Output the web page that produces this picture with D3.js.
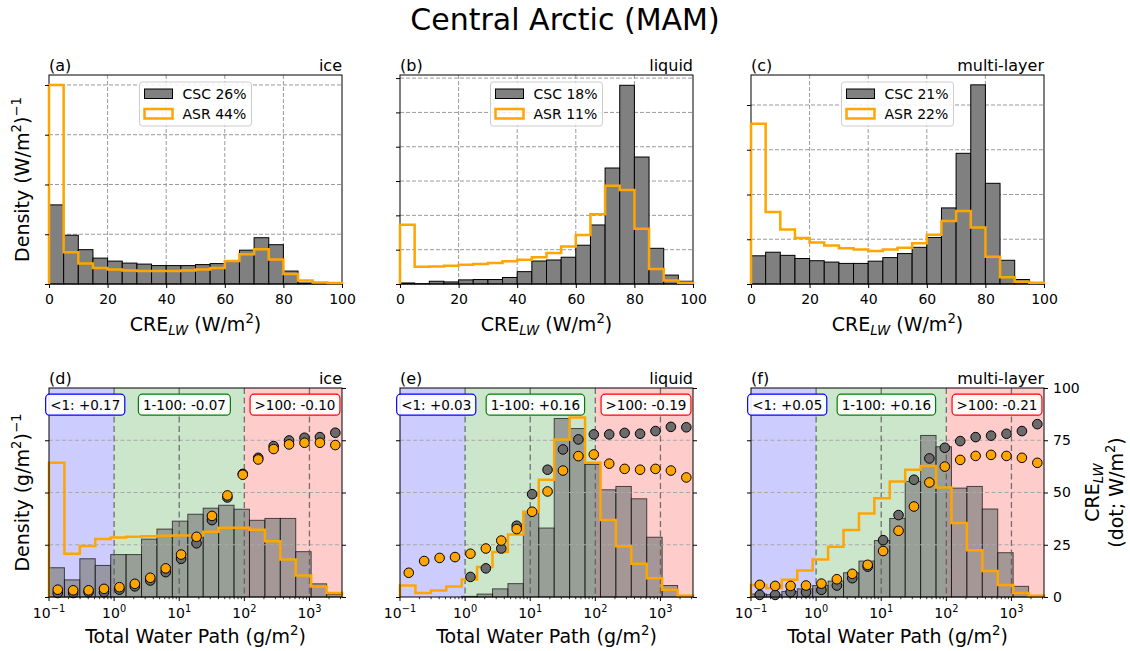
<!DOCTYPE html>
<html><head><meta charset="utf-8">
<script src="https://cdn.jsdelivr.net/npm/d3@7"></script>
<style>body{margin:0;background:#fff} svg text{font-family:"DejaVu Sans",sans-serif;fill:#000}</style>
</head><body><svg id="c" width="1130" height="651"></svg>
<script>
// ---------------- DATA ----------------
const title = "Central Arctic (MAM)";
const phases = ["ice", "liquid", "multi-layer"];
const topLetters = ["(a)", "(b)", "(c)"];
const botLetters = ["(d)", "(e)", "(f)"];
const cscPct = ["CSC 26%", "CSC 18%", "CSC 21%"];
const asrPct = ["ASR 44%", "ASR 11%", "ASR 22%"];

// CRE_LW histogram bin edges (W/m2)
const creEdges = [0,5,10,15,20,25,30,35,40,45,50,55,60,65,70,75,80,85,90,95,100];
const creTicks = [0,20,40,60,80,100];
// densities in units of one (unlabelled) y-tick step
const cscCreIce = [1.59,0.98,0.69,0.52,0.46,0.42,0.40,0.37,0.37,0.37,0.39,0.41,0.47,0.68,0.93,0.79,0.26,0.02,0.005,0.003];
const asrCreIce = [4.0,0.64,0.41,0.32,0.29,0.27,0.26,0.26,0.26,0.27,0.29,0.32,0.46,0.60,0.70,0.49,0.20,0.07,0.03,0.02];
const cscCreLiq = [0.03,0.01,0.08,0.06,0.12,0.13,0.13,0.19,0.36,0.67,0.70,0.78,1.13,1.72,3.38,5.79,3.70,1.04,0.26,0.08];
const asrCreLiq = [1.73,0.50,0.51,0.53,0.56,0.58,0.61,0.66,0.71,0.78,0.90,1.09,1.43,2.03,2.86,2.74,1.61,0.44,0.10,0.04];
const cscCreMul = [0.63,0.71,0.64,0.57,0.52,0.49,0.46,0.46,0.51,0.59,0.68,0.82,1.04,1.70,2.92,4.45,2.25,0.53,0.10,0.03];
const asrCreMul = [3.58,1.61,1.22,1.03,0.93,0.86,0.80,0.77,0.74,0.77,0.81,0.91,1.10,1.41,1.63,1.26,0.61,0.15,0.05,0.03];
const topYMax = [4.2, 6.09, 4.67];
const topYTicks = [[0,1,2,3,4],[0,1,2,3,4,5,6],[0,1,2,3,4]];

// Total water path bin edges (g/m2), log spaced
const twpEdges = [0.1,0.17252,0.29764,0.51348,0.88587,1.5283,2.6367,4.5488,7.8476,13.539,23.357,40.296,69.519,119.94,206.91,356.96,615.83,1062.5,1833.0,3162.3];
const twpMajor = [0.1,1,10,100,1000];
const twpExp = ["\u22121","0","1","2","3"];
const creRightTicks = [0,25,50,75,100];
// TWP densities (arbitrary units, same axis height as 0-100)
const cscTwpIce = [14.0,8.2,18.3,15.1,20.3,20.3,27.7,32.5,36.3,39.6,42.5,43.9,42.0,36.7,37.6,37.6,21.7,6.3,1.3];
const asrTwpIce = [64.2,20.7,24.4,27.7,28.5,28.8,29.1,29.3,29.4,29.4,31.2,33.1,33.1,32.2,26.7,18.0,10.3,5.0,1.9];
const cscTwpLiq = [0,0,0,0,0.3,1.4,3.9,6.4,40.5,33.0,85.4,80.6,63.4,51.3,52.9,47.0,28.6,5.5,0.5];
const asrTwpLiq = [5.5,1.9,3.1,5.0,8.4,14.3,21.5,29.9,40.8,56.1,75.4,85.9,64.2,36.8,24.3,15.9,9.0,3.5,0.6];
const cscTwpMul = [1.4,1.1,2.6,3.9,5.5,7.6,11.6,17.2,27.0,37.6,55.3,77.3,71.9,52.1,52.9,42.1,21.2,5.1,0.6];
const asrTwpMul = [5.8,4.2,8.3,12.7,18.0,24.0,32.0,40.0,47.3,55.3,60.9,62.7,52.4,35.4,22.4,12.4,5.8,1.9,0.6];
// mean CRE_LW per TWP bin (W/m2), dots
const cscDotIce = [1.9,1.9,2.3,2.3,3.5,5.1,7.9,11.9,18.3,25.7,36.8,47.6,58.9,66.6,72.2,74.9,76.2,76.5,78.6];
const asrDotIce = [3.5,3.2,3.2,3.9,4.7,6.3,9.2,13.7,20.3,28.8,38.8,48.6,58.5,65.8,70.8,73.0,73.8,73.8,72.7];
const cscDotLiq = [null,null,null,null,9.6,13.7,23.2,34.1,49.2,60.9,70.6,75.4,77.8,77.8,78.5,78.1,79.4,81.4,81.2];
const asrDotLiq = [11.6,17.2,18.7,19.1,20.7,23.2,27.0,32.5,40.8,50.5,60.5,67.4,68.2,63.8,61.3,60.9,61.3,60.5,57.2];
const cscDotMul = [1.0,1.0,2.3,2.3,3.4,5.5,9.0,14.5,27.2,39.2,56.1,66.3,71.4,74.6,76.5,77.2,78.1,79.4,82.7];
const asrDotMul = [5.8,5.3,5.3,5.5,6.4,8.5,11.1,15.4,22.0,31.7,43.3,54.8,62.4,65.6,67.5,68.0,67.5,66.6,64.2];

// regime annotations
const regimeBounds = [[0.1,1],[1,100],[100,3162.3]];
const regimeColors = ["blue","green","red"];
const regimeFill = ["#ccccff","#cce6cc","#ffcccc"];
const annX = [0.36, 12, 600];
const annY = 92;
const annText = [
  ["<1: +0.17","1-100: -0.07",">100: -0.10"],
  ["<1: +0.03","1-100: +0.16",">100: -0.19"],
  ["<1: +0.05","1-100: +0.16",">100: -0.21"]
];

const topCsc = [cscCreIce, cscCreLiq, cscCreMul];
const topAsr = [asrCreIce, asrCreLiq, asrCreMul];
const botCsc = [cscTwpIce, cscTwpLiq, cscTwpMul];
const botAsr = [asrTwpIce, asrTwpLiq, asrTwpMul];
const dotCsc = [cscDotIce, cscDotLiq, cscDotMul];
const dotAsr = [asrDotIce, asrDotLiq, asrDotMul];

// ---------------- LAYOUT ----------------
const svg = d3.select("#c");
const colL = [49, 400, 751], colW = 293;
const TT = 75, TB = 284, BT = 388, BB = 597;
const ORANGE = "#ffa500";

function addMath(t, parts, fs) {
  let shift = 0;
  parts.forEach(([s, m]) => {
    let target = 0, size = fs;
    if (m === "sup") { target = -0.42 * fs; size = fs * 0.7; }
    if (m === "sub" || m === "subi") { target = 0.22 * fs; size = fs * 0.7; }
    const ts = t.append("tspan").attr("dy", target - shift).attr("font-size", size).text(s);
    if (m === "subi") ts.attr("font-style", "italic");
    shift = target;
  });
  return t;
}

function stepPoints(edges, vals) {
  const pts = [[edges[0], 0]];
  vals.forEach((v, i) => { pts.push([edges[i], v]); pts.push([edges[i + 1], v]); });
  pts.push([edges[edges.length - 1], 0]);
  return pts;
}

svg.append("text").attr("x", 565).attr("y", 30).attr("text-anchor", "middle")
  .attr("font-size", 30).text(title);

// ---------------- TOP PANELS ----------------
for (let i = 0; i < 3; i++) {
  const L = colL[i], R = L + colW;
  const x = d3.scaleLinear().domain([0, 100]).range([L, R]);
  const y = d3.scaleLinear().domain([0, topYMax[i]]).range([TB, TT]);
  const g = svg.append("g");
  // grid
  g.selectAll(".vg").data(creTicks.slice(1, -1)).join("line")
    .attr("x1", d => x(d)).attr("x2", d => x(d)).attr("y1", TT).attr("y2", TB)
    .attr("stroke", "#9a9a9a").attr("stroke-dasharray", "4,2").attr("stroke-width", 1);
  g.selectAll(".hg").data(topYTicks[i].slice(1)).join("line")
    .attr("x1", L).attr("x2", R).attr("y1", d => y(d)).attr("y2", d => y(d))
    .attr("stroke", "#9a9a9a").attr("stroke-dasharray", "4,2").attr("stroke-width", 1);
  // bars
  g.selectAll(".bar").data(topCsc[i]).join("rect")
    .attr("x", (d, k) => x(creEdges[k])).attr("width", (d, k) => x(creEdges[k + 1]) - x(creEdges[k]))
    .attr("y", d => y(d)).attr("height", d => TB - y(d))
    .attr("fill", "#808080").attr("stroke", "#000").attr("stroke-width", 1);
  // frame
  g.append("rect").attr("x", L).attr("y", TT).attr("width", colW).attr("height", TB - TT)
    .attr("fill", "none").attr("stroke", "#000").attr("stroke-width", 1);
  // step
  g.append("path").datum(stepPoints(creEdges, topAsr[i]))
    .attr("d", d3.line().x(d => x(d[0])).y(d => y(d[1])))
    .attr("fill", "none").attr("stroke", ORANGE).attr("stroke-width", 2.5);
  // axes
  const ax = g.append("g").attr("transform", `translate(0,${TB})`)
    .call(d3.axisBottom(x).tickValues(creTicks).tickSize(4).tickPadding(6.5));
  ax.select(".domain").remove();
  ax.selectAll("text").attr("font-size", 14).attr("fill", "#000");
  const ay = g.append("g").attr("transform", `translate(${L},0)`)
    .call(d3.axisLeft(y).tickValues(topYTicks[i]).tickSize(4).tickFormat(""));
  ay.select(".domain").remove();
  // legend
  const lx = L + colW / 2 - 56, ly = 82;
  const lg = g.append("g");
  lg.append("rect").attr("x", lx).attr("y", ly).attr("width", 112).attr("height", 44).attr("rx", 3)
    .attr("fill", "#fff").attr("fill-opacity", 0.85).attr("stroke", "#cccccc");
  lg.append("rect").attr("x", lx + 5).attr("y", ly + 7).attr("width", 28).attr("height", 9.5)
    .attr("fill", "#808080").attr("stroke", "#000");
  lg.append("rect").attr("x", lx + 5).attr("y", ly + 27).attr("width", 28).attr("height", 9.5)
    .attr("fill", "none").attr("stroke", ORANGE).attr("stroke-width", 2.5);
  lg.append("text").attr("x", lx + 43).attr("y", ly + 16.5).attr("font-size", 14).text(cscPct[i]);
  lg.append("text").attr("x", lx + 43).attr("y", ly + 36.5).attr("font-size", 14).text(asrPct[i]);
  // panel labels
  g.append("text").attr("x", L).attr("y", TT - 4.5).attr("font-size", 16).text(topLetters[i]);
  g.append("text").attr("x", R).attr("y", TT - 4.5).attr("font-size", 16).attr("text-anchor", "end").text(phases[i]);
  // x label
  addMath(g.append("text").attr("x", L + colW / 2).attr("y", 331).attr("text-anchor", "middle").attr("font-size", 19),
    [["CRE", "n"], ["LW", "subi"], [" (W/m", "n"], ["2", "sup"], [")", "n"]], 19);
}
addMath(svg.append("text").attr("transform", `translate(29,${(TT + TB) / 2}) rotate(-90)`)
  .attr("text-anchor", "middle").attr("font-size", 19),
  [["Density (W/m", "n"], ["2", "sup"], [")", "n"], ["\u22121", "sup"]], 19);

// ---------------- BOTTOM PANELS ----------------
for (let i = 0; i < 3; i++) {
  const L = colL[i], R = L + colW;
  const x = d3.scaleLog().domain([twpEdges[0], twpEdges[twpEdges.length - 1]]).range([L, R]);
  const yd = d3.scaleLinear().domain([0, 100]).range([BB, BT]);   // density axis (arbitrary)
  const yc = d3.scaleLinear().domain([0, 100]).range([BB, BT]);   // CRE axis
  const g = svg.append("g");
  // regime shading
  g.selectAll(".sh").data(regimeBounds).join("rect")
    .attr("x", d => x(d[0])).attr("width", d => x(d[1]) - x(d[0]))
    .attr("y", BT).attr("height", BB - BT).attr("fill", (d, k) => regimeFill[k]);
  // bars
  g.selectAll(".bar").data(botCsc[i]).join("rect")
    .attr("x", (d, k) => x(twpEdges[k])).attr("width", (d, k) => x(twpEdges[k + 1]) - x(twpEdges[k]))
    .attr("y", d => yd(d)).attr("height", d => BB - yd(d))
    .attr("fill", "#808080").attr("fill-opacity", 0.7)
    .attr("stroke", "#000").attr("stroke-opacity", 0.65).attr("stroke-width", 1);
  // grid
  g.selectAll(".hg").data(creRightTicks.slice(1, -1)).join("line")
    .attr("x1", L).attr("x2", R).attr("y1", d => yc(d)).attr("y2", d => yc(d))
    .attr("stroke", "#a8a8a8").attr("stroke-dasharray", "4,2.5").attr("stroke-width", 1);
  g.selectAll(".vg").data(twpMajor.slice(1)).join("line")
    .attr("x1", d => x(d)).attr("x2", d => x(d)).attr("y1", BT).attr("y2", BB)
    .attr("stroke", "#555").attr("stroke-opacity", 0.8).attr("stroke-dasharray", "6,3.5").attr("stroke-width", 1.3);
  // step
  g.append("path").datum(stepPoints(twpEdges, botAsr[i]))
    .attr("d", d3.line().x(d => x(d[0])).y(d => yd(d[1])))
    .attr("fill", "none").attr("stroke", ORANGE).attr("stroke-width", 2.5);
  // dots
  const mids = twpEdges.slice(0, -1).map((e, k) => (e + twpEdges[k + 1]) / 2);
  g.selectAll(".dc").data(dotCsc[i].map((v, k) => [mids[k], v]).filter(d => d[1] !== null)).join("circle")
    .attr("cx", d => x(d[0])).attr("cy", d => yc(d[1])).attr("r", 4.8)
    .attr("fill", "#6b6b6b").attr("stroke", "#000").attr("stroke-width", 1);
  g.selectAll(".do").data(dotAsr[i].map((v, k) => [mids[k], v]).filter(d => d[1] !== null)).join("circle")
    .attr("cx", d => x(d[0])).attr("cy", d => yc(d[1])).attr("r", 4.8)
    .attr("fill", ORANGE).attr("stroke", "#000").attr("stroke-width", 1);
  // frame
  g.append("rect").attr("x", L).attr("y", BT).attr("width", colW).attr("height", BB - BT)
    .attr("fill", "none").attr("stroke", "#000").attr("stroke-width", 1);
  // annotations
  annText[i].forEach((s, k) => {
    const cx = x(annX[k]), cy = yc(annY);
    const t = g.append("text").attr("x", cx).attr("y", cy + 4.8).attr("text-anchor", "middle")
      .attr("font-size", 13.5).text(s);
    const w = t.node().getComputedTextLength();
    g.insert("rect", () => t.node()).attr("x", cx - w / 2 - 4.5).attr("y", cy - 10.5)
      .attr("width", w + 9).attr("height", 21).attr("rx", 4)
      .attr("fill", "#fff").attr("fill-opacity", 0.9).attr("stroke", regimeColors[k]).attr("stroke-width", 1.2);
  });
  // x axis: minor + major ticks
  const minor = x.ticks().filter(v => !twpMajor.some(m => Math.abs(m - v) / m < 1e-6));
  g.selectAll(".mt").data(minor).join("line")
    .attr("x1", d => x(d)).attr("x2", d => x(d)).attr("y1", BB).attr("y2", BB + 2.2)
    .attr("stroke", "#000").attr("stroke-width", 0.8);
  g.selectAll(".Mt").data(twpMajor).join("line")
    .attr("x1", d => x(d)).attr("x2", d => x(d)).attr("y1", BB).attr("y2", BB + 4)
    .attr("stroke", "#000").attr("stroke-width", 1);
  twpMajor.forEach((v, k) => {
    addMath(g.append("text").attr("x", x(v)).attr("y", BB + 21).attr("text-anchor", "middle").attr("font-size", 14),
      [["10", "n"], [twpExp[k], "sup"]], 14);
  });
  // left ticks (density), right ticks (CRE)
  const ay = g.append("g").attr("transform", `translate(${L},0)`)
    .call(d3.axisLeft(yd).tickValues([0, 25, 50, 75]).tickSize(4).tickFormat(""));
  ay.select(".domain").remove();
  const ar = g.append("g").attr("transform", `translate(${R},0)`)
    .call(d3.axisRight(yc).tickValues(creRightTicks).tickSize(4).tickPadding(5)
      .tickFormat(i === 2 ? d3.format("d") : ""));
  ar.select(".domain").remove();
  ar.selectAll("text").attr("font-size", 14).attr("fill", "#000");
  // panel labels
  g.append("text").attr("x", L).attr("y", BT - 4.5).attr("font-size", 16).text(botLetters[i]);
  g.append("text").attr("x", R).attr("y", BT - 4.5).attr("font-size", 16).attr("text-anchor", "end").text(phases[i]);
  // x label
  addMath(g.append("text").attr("x", L + colW / 2).attr("y", 643).attr("text-anchor", "middle").attr("font-size", 19),
    [["Total Water Path (g/m", "n"], ["2", "sup"], [")", "n"]], 19);
}
addMath(svg.append("text").attr("transform", `translate(29,${(BT + BB) / 2}) rotate(-90)`)
  .attr("text-anchor", "middle").attr("font-size", 19),
  [["Density (g/m", "n"], ["2", "sup"], [")", "n"], ["\u22121", "sup"]], 19);
addMath(svg.append("text").attr("transform", `translate(1099,${(BT + BB) / 2}) rotate(-90)`)
  .attr("text-anchor", "middle").attr("font-size", 19),
  [["CRE", "n"], ["LW", "subi"]], 19);
addMath(svg.append("text").attr("transform", `translate(1123,${(BT + BB) / 2}) rotate(-90)`)
  .attr("text-anchor", "middle").attr("font-size", 19),
  [["(dot; W/m", "n"], ["2", "sup"], [")", "n"]], 19);
</script></body></html>
